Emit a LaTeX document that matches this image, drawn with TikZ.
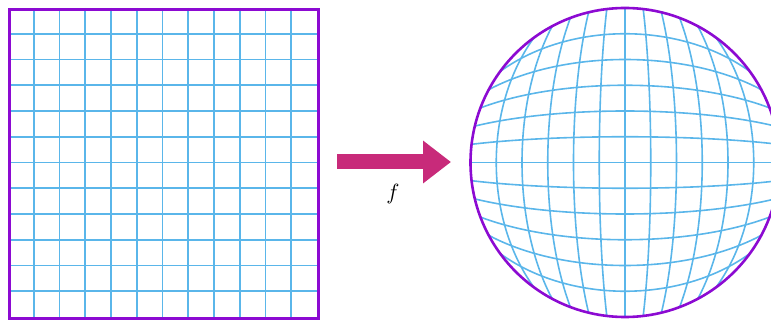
\documentclass[tikz,border=0pt]{standalone}
\usetikzlibrary{arrows.meta}
\definecolor{borderpurple}{RGB}{140,10,210}
\definecolor{gridblue}{RGB}{90,182,234}
\definecolor{arrowmag}{RGB}{200,42,122}
\tikzset{
  gridline/.style={draw=gridblue, line width=1.6pt},
  frame/.style={draw=borderpurple, line width=2.6pt},
  maparrow/.style={draw=arrowmag, line width=15pt, -{Triangle[length=28pt,width=41pt]}},
}
\begin{document}
\begin{tikzpicture}[x=1pt,y=-1pt]
\useasboundingbox (0,0) rectangle (771,320);
\clip (0,0) rectangle (771,320);
% left square grid
\foreach \k in {1,...,11}{
  \path[gridline] ({8+\k*309/12},8) -- ({8+\k*309/12},317);
  \path[gridline] (8,{8+\k*309/12}) -- (317,{8+\k*309/12});
}
\node[frame, minimum width=309pt, minimum height=309pt, inner sep=0pt, anchor=north west] (sq) at (8,8) {};
% right disk grid (elliptical square-to-disc mapping)
\coordinate (dc) at (625,162.5);
\begin{scope}[shift={(dc)}, x=154.5pt, y=154.5pt]
\foreach \k in {1,...,11}{
  \pgfmathsetmacro{\c}{-1+\k/6}
  \draw[gridline] plot[domain=-1:1, samples=50, smooth, variable=\t]
    ({\c*sqrt(1-\t*\t/2)}, {\t*sqrt(1-\c*\c/2)});
  \draw[gridline] plot[domain=-1:1, samples=50, smooth, variable=\t]
    ({\t*sqrt(1-\c*\c/2)}, {\c*sqrt(1-\t*\t/2)});
}
\end{scope}
\node[frame, circle, minimum size=309pt, inner sep=0pt] (disk) at (dc) {};
% arrow
\coordinate (a0) at (337,162);
\coordinate (a1) at (451,162);
\draw[maparrow] (a0) -- (a1);
\node[scale=2.2] (flab) at (393,194) {$f$};
\end{tikzpicture}
\end{document}
